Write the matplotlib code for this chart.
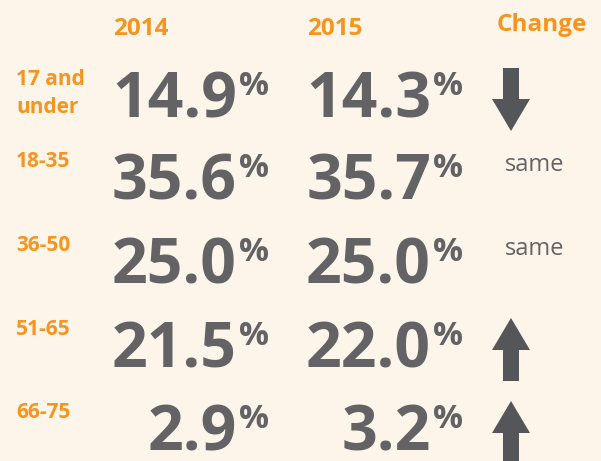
import matplotlib
matplotlib.use("Agg")
import matplotlib.pyplot as plt

# data
age_groups = ["17 and\nunder", "18-35", "36-50", "51-65", "66-75"]
share_2014 = [14.9, 35.6, 25.0, 21.5, 2.9]
share_2015 = [14.3, 35.7, 25.0, 22.0, 3.2]
change = ["down", "same", "same", "up", "up"]
col_titles = ["2014", "2015", "Change"]

bg = "#fdf5ea"
orange = "#f7941d"
grey = "#636366"
arrow_col = "#55565a"

plt.rcParams['font.family'] = ['Open Sans', 'DejaVu Sans']

fig = plt.figure(figsize=(6.01, 4.61), dpi=100, facecolor=bg)
ax = fig.add_axes([0, 0, 1, 1])
ax.set_facecolor(bg)
ax.set_xlim(0, 601)
ax.set_ylim(461, 0)
ax.axis('off')

# column headers
ax.text(141, 35, col_titles[0], ha='center', va='baseline', fontsize=17.5,
        fontweight='bold', color=orange)
ax.text(335, 35, col_titles[1], ha='center', va='baseline', fontsize=17.5,
        fontweight='bold', color=orange)
ax.text(542, 31, col_titles[2], ha='center', va='baseline', fontsize=17.5,
        fontweight='bold', color=orange)

row_y = [117, 199, 283, 367, 450]   # baselines of the big numbers
pct_cols = [268, 462]               # right edge of the % signs


def draw_arrow(xc, y_top, y_bot, up):
    head_w = 19
    shaft_w = 8
    head_len = 32
    if up:
        tip, base = y_top, y_bot
        hb = tip + head_len
    else:
        tip, base = y_bot, y_top
        hb = tip - head_len
    xs = [xc, xc + head_w, xc + shaft_w, xc + shaft_w,
          xc - shaft_w, xc - shaft_w, xc - head_w]
    ys = [tip, hb, hb, base, base, hb, hb]
    ax.fill(xs, ys, color=arrow_col, lw=0)


for i, y in enumerate(row_y):
    lines = age_groups[i].split("\n")
    for k, line in enumerate(lines):
        ax.text(16, y - 32 + k * 28, line, ha='left', va='baseline',
                fontsize=15, fontweight='bold', color=orange)
    for vals, xr in zip([share_2014, share_2015], pct_cols):
        ax.text(xr + 1, y - 22, "%", ha='right', va='baseline', fontsize=24,
                fontweight='bold', color=grey)
        ax.text(xr - 31, y, "%.1f" % vals[i], ha='right', va='baseline',
                fontsize=45, fontweight='bold', color=grey)
    if change[i] == "same":
        ax.text(535, y - 28, "same", ha='center', va='baseline',
                fontsize=17, color=grey)
    else:
        draw_arrow(511, y - 49, y + 14, change[i] == "up")

fig.savefig("out.png", dpi=100, facecolor=bg)
